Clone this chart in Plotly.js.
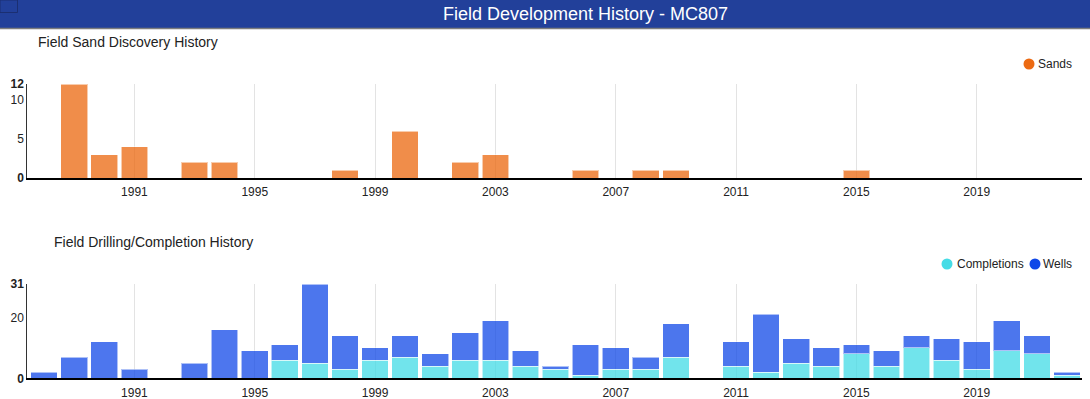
<!DOCTYPE html>
<html>
<head>
<meta charset="utf-8">
<script src="https://cdn.plot.ly/plotly-3.0.1.min.js"></script>
<style>
html,body{margin:0;padding:0;background:#fff;}
#chart{width:1090px;height:399px;}
</style>
</head>
<body>
<div id="chart"></div>
<script>
// ---- data ----
var pageTitle = "Field Development History - MC807";
var sandTitle = "Field Sand Discovery History";
var drillTitle = "Field Drilling/Completion History";

var sandYears = [1989, 1990, 1991, 1993, 1994, 1998, 2000, 2002, 2003, 2006, 2008, 2009, 2015];
var sandCounts = [12, 3, 4, 2, 2, 1, 6, 2, 3, 1, 1, 1, 1];

var drillYears = [1988, 1989, 1990, 1991, 1992, 1993, 1994, 1995, 1996, 1997, 1998, 1999, 2000, 2001, 2002, 2003, 2004, 2005,
                  2006, 2007, 2008, 2009, 2010, 2011, 2012, 2013, 2014, 2015, 2016, 2017, 2018, 2019, 2020, 2021, 2022];
var completions = [null, null, null, null, null, null, null, null, 6, 5, 3, 6, 7, 4, 6, 6, 4, 3,
                   1, 3, 3, 7, null, 4, 2, 5, 4, 8, 4, 10, 6, 3, 9, 8, 1];
var wells = [2, 7, 12, 3, null, 5, 16, 9, 5, 26, 11, 4, 7, 4, 9, 13, 5, 1,
             10, 7, 4, 11, null, 8, 19, 8, 6, 3, 5, 4, 7, 9, 10, 6, 1];

var xTickVals = [1991, 1995, 1999, 2003, 2007, 2011, 2015, 2019];
var xTickText = ["1991", "1995", "1999", "2003", "2007", "2011", "2015", "2019"];
var sandTickVals = [0, 5, 10, 12];
var sandTickText = ["<b>0</b>", "5", "10", "<b>12</b>"];
var drillTickVals = [0, 20, 31];
var drillTickText = ["<b>0</b>", "20", "<b>31</b>"];

var legendSands = "Sands";
var legendCompletions = "Completions";
var legendWells = "Wells";

// ---- styling ----
var W = 1090, H = 399;
function px(x) { return x / W; }
function py(y) { return 1 - y / H; }
var FONT = "Arial, 'Liberation Sans', sans-serif";
var barLine = {color: 'rgba(255,255,255,0.55)', width: 1};
var barW = 0.887;

var traces = [
  {type: 'bar', x: sandYears, y: sandCounts, xaxis: 'x', yaxis: 'y', name: legendSands, width: barW,
   marker: {color: '#EC6A12', opacity: 0.76, line: barLine}, showlegend: false, hoverinfo: 'x+y'},
  {type: 'bar', x: drillYears, y: completions, xaxis: 'x2', yaxis: 'y2', name: legendCompletions, width: barW,
   marker: {color: '#45DCE6', opacity: 0.76, line: barLine}, showlegend: false},
  {type: 'bar', x: drillYears, y: wells, xaxis: 'x2', yaxis: 'y2', name: legendWells, width: barW,
   marker: {color: '#0F47E8', opacity: 0.74, line: barLine}, showlegend: false}
];

var xRange = [1987.44, 2022.5];
var xDomain = [px(27.3), px(1082)];
function xAxis(anchor) {
  return {
    domain: xDomain, range: xRange, anchor: anchor, fixedrange: true,
    tickmode: 'array', tickvals: xTickVals, ticktext: xTickText,
    showgrid: true, gridcolor: '#e3e3e3', gridwidth: 1,
    showline: true, linecolor: '#000', linewidth: 2,
    ticks: 'outside', ticklen: 2, tickcolor: 'rgba(0,0,0,0)',
    tickfont: {family: FONT, size: 12, color: '#222'}, zeroline: false
  };
}
function yAxis(anchor, domain, range, vals, text) {
  return {
    domain: domain, range: range, anchor: anchor, fixedrange: true,
    tickmode: 'array', tickvals: vals, ticktext: text,
    showgrid: false, zeroline: false,
    showline: true, linecolor: '#333', linewidth: 1,
    ticks: '', tickfont: {family: FONT, size: 12, color: '#222'}
  };
}

var shapes = [
  {type: 'rect', xref: 'paper', yref: 'paper', x0: 0, x1: 1, y0: py(28), y1: 1, fillcolor: '#22409A', line: {width: 0}, layer: 'below'},
  {type: 'line', xref: 'paper', yref: 'paper', x0: 0, x1: 1, y0: py(28.5), y1: py(28.5), line: {color: '#7d7d7d', width: 1.5}},
  {type: 'rect', xref: 'paper', yref: 'paper', x0: 0, x1: px(17.5), y0: py(12.5), y1: 1, fillcolor: 'rgba(0,0,0,0)', line: {color: '#1b2f72', width: 1}},
  {type: 'circle', xref: 'paper', yref: 'paper', x0: px(1023.5), x1: px(1034.5), y0: py(69.5), y1: py(58.5), fillcolor: '#EC6A12', line: {width: 0}},
  {type: 'circle', xref: 'paper', yref: 'paper', x0: px(941.5), x1: px(952.5), y0: py(269.5), y1: py(258.5), fillcolor: '#45DCE6', line: {width: 0}},
  {type: 'circle', xref: 'paper', yref: 'paper', x0: px(1029.5), x1: px(1040.5), y0: py(269.5), y1: py(258.5), fillcolor: '#0F47E8', line: {width: 0}}
];

function ann(text, x, y, size, color, xanchor) {
  return {text: text, xref: 'paper', yref: 'paper', x: px(x), y: py(y), xanchor: xanchor || 'left', yanchor: 'middle',
          showarrow: false, font: {family: FONT, size: size, color: color}};
}
var annotations = [
  ann(pageTitle, 585.5, 14, 18, '#ffffff', 'center'),
  ann(sandTitle, 36, 42.5, 14, '#222222'),
  ann(drillTitle, 51.5, 242, 14, '#222222'),
  ann(legendSands, 1036, 64, 12, '#222222'),
  ann(legendCompletions, 955, 264, 12, '#222222'),
  ann(legendWells, 1041, 264, 12, '#222222')
];

var layout = {
  width: W, height: H,
  margin: {l: 0, r: 0, t: 0, b: 0, pad: 0},
  paper_bgcolor: '#fff', plot_bgcolor: 'rgba(0,0,0,0)',
  barmode: 'stack', bargap: 0,
  showlegend: false,
  xaxis: xAxis('y'),
  yaxis: yAxis('x', [py(178), py(84)], [0, 12], sandTickVals, sandTickText),
  xaxis2: xAxis('y2'),
  yaxis2: yAxis('x2', [py(378.3), py(284)], [0, 31], drillTickVals, drillTickText),
  shapes: shapes,
  annotations: annotations,
  font: {family: FONT}
};

Plotly.newPlot('chart', traces, layout, {displayModeBar: false, staticPlot: true});
</script>
</body>
</html>
